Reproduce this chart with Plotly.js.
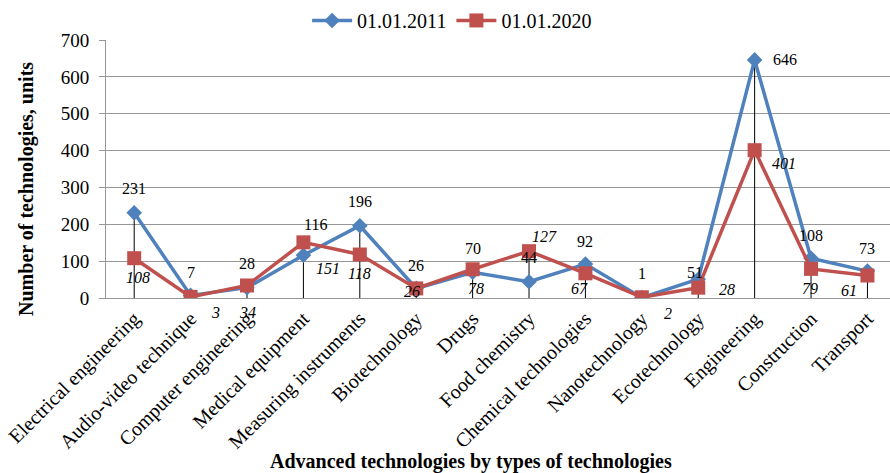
<!DOCTYPE html>
<html>
<head>
<meta charset="utf-8">
<script src="https://cdn.plot.ly/plotly-3.0.1.min.js"></script>
<style>
html,body{margin:0;padding:0;background:#fff;}
#chart{width:890px;height:473px;}
</style>
</head>
<body>
<div id="chart"></div>
<script>
// ---- data ----
const categories = ["Electrical engineering","Audio-video technique","Computer engineering","Medical equipment","Measuring instruments","Biotechnology","Drugs","Food chemistry","Chemical technologies","Nanotechnology","Ecotechnology","Engineering","Construction","Transport"];
const series2011 = [231, 7, 28, 116, 196, 26, 70, 44, 92, 1, 51, 646, 108, 73];
const series2020 = [108, 3, 34, 151, 118, 26, 78, 127, 67, 2, 28, 401, 79, 61];
const seriesNames = ["01.01.2011", "01.01.2020"];
const xTitle = "Advanced technologies by types of technologies";
const yTitle = "Number of technologies, units";

// ---- label placement (pixel offsets, not data) ----
const shift2011 = [[0,24],[0,23],[0,24],[12,31],[0,24],[0,23],[0,24],[0,24],[0,23],[0,24],[-3,7],[30,0],[0,23],[0,23]];
const shift2020 = [[4,-19],[25,-16],[0,-27],[25,-26],[0,-19],[-4,-3],[3,-19],[15,15],[-6,-15],[26,-16],[29,-2],[29,-13],[-1,-20],[-18,-15]];

const FONT = "Liberation Serif, Times New Roman, serif";
const BLUE = "#4F81BD", RED = "#C0504D", GRID = "#969696";

// drop lines from the higher value down to zero
const dropX = [], dropY = [];
categories.forEach((c, i) => {
  dropX.push(c, c, null);
  dropY.push(0, Math.max(series2011[i], series2020[i]), null);
});

const traces = [
  {x: dropX, y: dropY, mode: "lines", line: {color: "#000", width: 1}, showlegend: false, hoverinfo: "skip"},
  {x: categories, y: series2011, name: seriesNames[0], mode: "lines+markers",
   line: {color: BLUE, width: 3.5}, marker: {symbol: "diamond", size: 12, color: BLUE}},
  {x: categories, y: series2020, name: seriesNames[1], mode: "lines+markers",
   line: {color: RED, width: 3.5}, marker: {symbol: "square", size: 14, color: RED}}
];

const annotations = [];
categories.forEach((c, i) => {
  annotations.push({x: c, y: series2011[i], xref: "x", yref: "y", text: String(series2011[i]),
    showarrow: false, xshift: shift2011[i][0], yshift: shift2011[i][1],
    font: {family: FONT, size: 16, color: "#000"}});
  annotations.push({x: c, y: series2020[i], xref: "x", yref: "y", text: "<i>" + series2020[i] + "</i>",
    showarrow: false, xshift: shift2020[i][0], yshift: shift2020[i][1],
    font: {family: FONT, size: 16, color: "#000"}});
});
// axis titles
annotations.push({xref: "paper", yref: "paper", x: -0.1008, y: 0.4225, xanchor: "center", yanchor: "middle",
  textangle: -90, showarrow: false, text: "<b>" + yTitle + "</b>", font: {family: FONT, size: 20, color: "#000"}});
annotations.push({xref: "paper", yref: "paper", x: 0.4656, y: -0.632, xanchor: "center", yanchor: "middle",
  showarrow: false, text: "<b>" + xTitle + "</b>", font: {family: FONT, size: 20, color: "#000"}});

const layout = {
  width: 890, height: 473,
  margin: {l: 106, r: 0, t: 40, b: 175},
  paper_bgcolor: "#fff", plot_bgcolor: "#fff",
  font: {family: FONT, size: 18, color: "#000"},
  showlegend: true,
  legend: {orientation: "h", xref: "container", yref: "container", x: 0.508, xanchor: "center",
           y: 0.998, yanchor: "top", font: {family: FONT, size: 20}, itemwidth: 40, tracegroupgap: 0},
  xaxis: {type: "category", range: [-0.5, 13.4], tickangle: -45, showgrid: false,
          showline: true, linecolor: GRID, linewidth: 1, ticks: "", tickfont: {family: FONT, size: 20, color: "#000"},
          automargin: false, fixedrange: true},
  yaxis: {range: [0, 700], dtick: 100, showgrid: true, gridcolor: GRID, gridwidth: 1,
          showline: true, linecolor: GRID, linewidth: 1, ticks: "outside", ticklen: 6, tickcolor: GRID,
          ticklabelstandoff: 6,
          zeroline: false, tickfont: {family: FONT, size: 19, color: "#000"},
          automargin: false, fixedrange: true},
  annotations: annotations
};

Plotly.newPlot("chart", traces, layout, {displayModeBar: false, staticPlot: true});
</script>
</body>
</html>
